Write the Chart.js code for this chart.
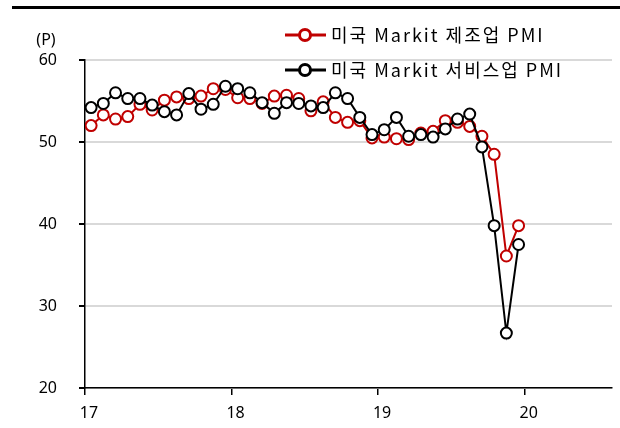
<!DOCTYPE html>
<html>
<head>
<meta charset="utf-8">
<script src="https://cdn.jsdelivr.net/npm/chart.js@4.4.1/dist/chart.umd.min.js"></script>
<style>
  body { margin: 0; background: #fff; }
  #wrap { width: 620px; height: 428px; }
</style>
</head>
<body>
<div id="wrap"><canvas id="myChart" width="620" height="428"></canvas></div>
<script>
// monthly values, 36 points
const mfgPMI = [52.0, 53.3, 52.8, 53.1, 54.6, 53.9, 55.1, 55.5, 55.3, 55.6, 56.5, 56.4,
                55.4, 55.3, 54.7, 55.6, 55.7, 55.3, 53.8, 54.9, 53.0, 52.4, 52.6, 50.5,
                50.6, 50.4, 50.3, 51.1, 51.3, 52.6, 52.4, 51.9, 50.7, 48.5, 36.1, 39.8];
const svcPMI = [54.2, 54.7, 56.0, 55.3, 55.3, 54.5, 53.7, 53.3, 55.9, 54.0, 54.6, 56.8,
                56.5, 56.0, 54.8, 53.5, 54.8, 54.7, 54.4, 54.2, 56.0, 55.3, 53.0, 50.9,
                51.5, 53.0, 50.7, 50.9, 50.6, 51.6, 52.8, 53.4, 49.4, 39.8, 26.7, 37.5];
const seriesNames = ['미국 Markit 제조업 PMI', '미국 Markit 서비스업 PMI'];
const xTickLabels = ['17', '18', '19', '20'];
const yTicks = [20, 30, 40, 50, 60];

const red = '#c00000';
const ctx = document.getElementById('myChart');

function toPoints(arr) {
    return arr.map((v, i) => ({ x: i + 0.5, y: v }));
}

const extras = {
    id: 'extras',
    afterDraw(chart) {
        const c = chart.ctx;
        c.save();
        // top bar
        c.fillStyle = '#000';
        c.fillRect(12, 6, 608, 3);
        // unit
        c.font = '16px "Noto Sans", sans-serif';
        c.textAlign = 'center';
        c.textBaseline = 'middle';
        c.fillText('(P)', 46, 40);
        // legend
        const rows = [{ y: 35, color: red, text: seriesNames[0] }, { y: 70, color: '#000', text: seriesNames[1] }];
        rows.forEach(r => {
            c.strokeStyle = r.color;
            c.lineWidth = 3;
            c.beginPath();
            c.moveTo(285, r.y);
            c.lineTo(326, r.y);
            c.stroke();
            c.beginPath();
            c.arc(305, r.y, 5.5, 0, Math.PI * 2);
            c.fillStyle = '#fff';
            c.fill();
            c.stroke();
            c.fillStyle = '#000';
            c.textAlign = 'left';
            c.font = '18px "Noto Sans CJK KR", sans-serif';
            c.letterSpacing = '2px';
            c.fillText(r.text, 331, r.y);
            c.letterSpacing = '0px';
        });
        c.restore();
    }
};

new Chart(ctx, {
    type: 'line',
    data: {
        datasets: [
            {
                label: seriesNames[0],
                data: toPoints(mfgPMI),
                borderColor: red,
                borderWidth: 2,
                pointRadius: 5.5,
                pointBorderWidth: 2,
                pointBackgroundColor: '#fff',
                pointBorderColor: red,
                order: 2
            },
            {
                label: seriesNames[1],
                data: toPoints(svcPMI),
                borderColor: '#000',
                borderWidth: 2,
                pointRadius: 5.5,
                pointBorderWidth: 2,
                pointBackgroundColor: '#fff',
                pointBorderColor: '#000',
                order: 1
            }
        ]
    },
    options: {
        responsive: false,
        animation: false,
        layout: { padding: { left: 0, right: 8, top: 60, bottom: 0 } },
        plugins: {
            legend: { display: false },
            tooltip: { enabled: false }
        },
        scales: {
            x: {
                type: 'linear',
                min: 0,
                max: 43.15,
                afterBuildTicks: (s) => { s.ticks = xTickLabels.map((t, i) => ({ value: i * 12 })); },
                afterFit: (s) => { s.height = 40; },
                ticks: {
                    callback: (v) => xTickLabels[Math.round(v / 12)],
                    color: '#000',
                    font: { family: 'Noto Sans', size: 16 },
                    padding: 9,
                    labelOffset: 4,
                    maxRotation: 0
                },
                grid: { drawOnChartArea: false, drawTicks: true, tickLength: 7, tickColor: '#000', lineWidth: 1.5 },
                border: { color: '#000', width: 1.5 }
            },
            y: {
                min: 20,
                max: 60,
                afterBuildTicks: (s) => { s.ticks = yTicks.map(v => ({ value: v })); },
                afterFit: (s) => { s.width = 85; },
                ticks: {
                    color: '#000',
                    font: { family: 'Noto Sans', size: 16 },
                    padding: 22
                },
                grid: { color: '#d9d9d9', lineWidth: 2, tickLength: 6, tickColor: '#000' },
                border: { color: '#000', width: 1.5 }
            }
        }
    },
    plugins: [extras]
});
</script>
</body>
</html>
